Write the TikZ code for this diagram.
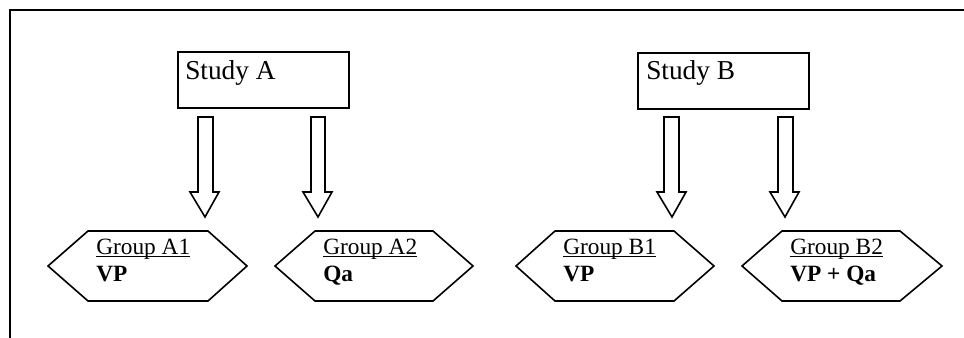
\documentclass[tikz,border=0pt]{standalone}
\usepackage{fontspec}
\setmainfont{Liberation Serif}
\newcommand{\myul}[1]{\setbox0\hbox{#1}\rlap{\rule[-1.8pt]{\wd0}{0.8pt}}\box0}
\begin{document}
\begin{tikzpicture}[x=0.75pt,y=-0.75pt,
  line/.style={line width=1.2pt, line join=miter},
  studybox/.style={line, draw},
  blockarrow/.style={line, draw, fill=white},
  hexa/.style={line, draw},
  studytext/.style={font=\fontsize{20.5}{23}\selectfont, anchor=base west, inner sep=0pt},
  grouptext/.style={font=\fontsize{17.5}{20}\selectfont, anchor=base west, inner sep=0pt}]
\useasboundingbox (0,0) rectangle (964,338);
% frame
\draw[line width=1.5pt] (964,10) -- (10,10) -- (10,338);
% study boxes
\node[studybox, minimum width=171*0.75pt, minimum height=56*0.75pt, anchor=north west, inner sep=0pt] (sa) at (177,51) {};
\node[studybox, minimum width=171*0.75pt, minimum height=56*0.75pt, anchor=north west, inner sep=0pt] (sb) at (637,52) {};
\node[studytext] (ta) at (185,80) {Study A};
\node[studytext] (tb) at (646,80) {Study B};
% block arrows
\foreach \sl/\sr/\hl/\hr/\tx in {198/213/190/219/205, 311/325/303/332/318, 664/679/657/686/672, 778/793/770/799/785}{
  \draw[blockarrow] (\sl,117) -- (\sr,117) -- (\sr,192) -- (\hr,192) -- (\tx,217) -- (\hl,192) -- (\sl,192) -- cycle;
}
% hexagons
\foreach \l/\tl/\tr/\r in {48/88/208/247, 275/315/433/473, 516/555/674/714, 742/782/900/942}{
  \draw[hexa] (\l,266) -- (\tl,231) -- (\tr,231) -- (\r,266) -- (\tr,301) -- (\tl,301) -- cycle;
}
% group texts
\node[grouptext] (ga1) at (96,255) {\myul{Group A1}};
\node[grouptext] (va1) at (96,282) {\textbf{VP}};
\node[grouptext] (ga2) at (323,255) {\myul{Group A2}};
\node[grouptext] (va2) at (323,282) {\textbf{Qa}};
\node[grouptext] (gb1) at (563,255) {\myul{Group B1}};
\node[grouptext] (vb1) at (563,282) {\textbf{VP}};
\node[grouptext] (gb2) at (790,255) {\myul{Group B2}};
\node[grouptext] (vb2) at (790,282) {\textbf{VP + Qa}};
\end{tikzpicture}
\end{document}
